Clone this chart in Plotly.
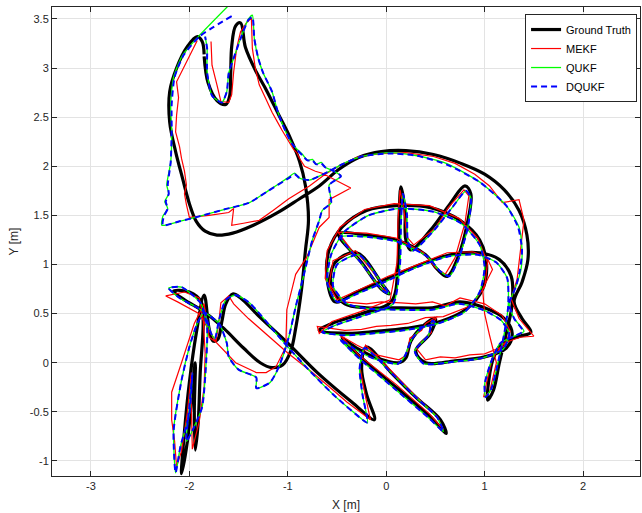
import plotly.graph_objects as go

# ---------------- data (metres) ----------------
truth_path = [
    (-1.85, 3.14), (-1.87, 3.27), (-1.92, 3.32), (-2.02, 3.22), (-2.13, 3.00), (-2.20, 2.76),
    (-2.20, 2.45), (-2.14, 2.15),
    (-2.07, 1.88), (-2.00, 1.62), (-1.93, 1.44), (-1.84, 1.34), (-1.72, 1.30), (-1.56, 1.32),
    (-1.35, 1.40), (-1.10, 1.53), (-0.88, 1.67), (-0.68, 1.80), (-0.48, 1.97), (-0.28, 2.09),
    (-0.05, 2.15), (0.20, 2.16), (0.48, 2.12), (0.76, 2.03), (1.00, 1.92), (1.20, 1.76),
    (1.35, 1.55), (1.43, 1.30), (1.44, 1.05), (1.38, 0.82), (1.30, 0.62), (1.38, 0.45),
    (1.47, 0.31), (1.36, 0.27), (1.20, 0.22), (1.09, 0.05), (1.04, -0.20), (1.03, -0.38),
    (1.09, -0.28), (1.15, 0.00), (1.22, 0.30), (1.28, 0.60), (1.27, 0.88), (1.15, 1.05),
    (0.95, 1.12), (0.65, 1.10), (0.30, 0.98), (0.00, 0.85), (-0.30, 0.72), (-0.52, 0.62),
    (-0.60, 0.85), (-0.58, 1.15), (-0.45, 1.38), (-0.20, 1.55), (0.10, 1.60), (0.45, 1.58),
    (0.75, 1.45), (0.95, 1.25), (1.02, 1.00), (0.98, 0.75), (0.82, 0.55), (0.55, 0.42),
    (0.20, 0.35), (-0.10, 0.32), (-0.40, 0.30), (-0.68, 0.33), (-0.55, 0.40), (-0.25, 0.50),
    (0.05, 0.62), (0.12, 1.00), (0.13, 1.45), (0.15, 1.79), (0.19, 1.55), (0.20, 1.25),
    (0.25, 1.15), (0.45, 1.35), (0.65, 1.62), (0.80, 1.80), (0.86, 1.72), (0.82, 1.40),
    (0.72, 1.05), (0.62, 0.88), (0.52, 0.95), (0.40, 1.10), (0.10, 1.25), (-0.20, 1.30),
    (-0.48, 1.31), (-0.25, 1.02), (-0.05, 0.75), (0.03, 0.70), (-0.04, 0.80), (-0.30, 1.12),
    (-0.52, 1.02), (-0.56, 0.78), (-0.42, 0.60), (-0.20, 0.56), (0.15, 0.56), (0.47, 0.56),
    (0.75, 0.62), (1.00, 0.56), (1.20, 0.45), (1.28, 0.30), (1.22, 0.15), (1.00, 0.06),
    (0.70, 0.02), (0.40, 0.00), (0.30, 0.12), (0.45, 0.30), (0.50, 0.45), (0.38, 0.38),
    (0.25, 0.22), (0.20, 0.05),
    (0.13, 0.00), (-0.10, 0.05), (-0.30, 0.15), (-0.45, 0.25),
    (-0.25, 0.05), (0.10, -0.25), (0.45, -0.55), (0.61, -0.72), (0.55, -0.58), (0.30, -0.35),
    (0.05, -0.10), (-0.20, 0.16), (-0.25, -0.05), (-0.20, -0.32), (-0.12, -0.58), (-0.35, -0.40),
    (-0.70, -0.10), (-1.00, 0.20), (-1.30, 0.48), (-1.48, 0.66), (-1.56, 0.70), (-1.63, 0.60),
    (-1.67, 0.42), (-1.71, 0.24), (-1.76, 0.22), (-1.80, 0.35), (-1.85, 0.69), (-1.93, 0.30),
    (-2.00, -0.20), (-2.05, -0.70), (-2.08, -1.13), (-2.02, -0.80), (-1.98, -0.40), (-1.94, 0.00),
    (-1.95, -0.50), (-1.94, -0.89), (-1.91, -0.60), (-1.89, -0.10), (-1.86, 0.40), (-1.88, 0.62),
    (-2.00, 0.72), (-2.16, 0.73), (-2.05, 0.64), (-1.85, 0.52), (-1.65, 0.35), (-1.45, 0.15),
    (-1.28, 0.00), (-1.16, -0.05), (-1.05, -0.02), (-0.97, 0.12), (-0.92, 0.35), (-0.86, 0.75),
    (-0.82, 1.15), (-0.79, 1.45), (-0.82, 1.80), (-0.88, 2.05), (-0.98, 2.30), (-1.09, 2.52),
    (-1.22, 2.78), (-1.32, 2.96), (-1.43, 3.21), (-1.48, 3.46), (-1.53, 3.43), (-1.57, 3.22),
    (-1.58, 2.95), (-1.59, 2.72), (-1.63, 2.63), (-1.72, 2.67), (-1.81, 2.85), (-1.85, 3.12),
]

mekf_path = [
    (-1.92, 3.28), (-2.03, 3.06), (-2.13, 2.86), (-2.11, 2.70), (-2.13, 2.52), (-2.14, 2.35),
    (-2.10, 2.20), (-2.08, 2.08), (-2.05, 1.95), (-2.03, 1.81), (-2.05, 1.72), (-2.03, 1.61),
    (-2.00, 1.48), (-1.80, 1.50), (-1.60, 1.53), (-1.55, 1.57), (-1.57, 1.40), (-1.45, 1.42),
    (-1.29, 1.45), (-1.15, 1.55), (-0.99, 1.67), (-0.78, 1.80), (-0.62, 1.92), (-0.45, 2.02),
    (-0.28, 2.10), (-0.05, 2.13), (0.20, 2.14), (0.48, 2.10), (0.70, 2.03), (0.90, 1.92),
    (1.05, 1.80), (1.18, 1.63), (1.35, 1.66), (1.40, 1.45), (1.38, 1.28), (1.36, 1.05),
    (1.33, 0.85), (1.27, 0.65), (1.35, 0.45), (1.50, 0.27), (1.36, 0.26), (1.20, 0.20),
    (1.08, 0.05), (1.02, -0.20), (0.99, -0.35), (1.05, -0.30), (1.12, 0.00), (1.05, 0.28),
    (1.00, 0.50), (0.98, 0.75), (1.08, 0.95), (1.02, 1.08), (0.88, 1.13), (0.62, 1.12),
    (0.32, 1.00), (0.02, 0.88), (-0.28, 0.74), (-0.50, 0.64), (-0.62, 0.86), (-0.60, 1.14),
    (-0.47, 1.38), (-0.22, 1.56), (0.08, 1.62), (0.44, 1.60), (0.74, 1.47), (0.93, 1.27),
    (1.03, 1.02), (1.00, 0.77), (0.86, 0.58), (0.58, 0.47), (0.40, 0.46), (0.22, 0.40),
    (0.05, 0.38), (-0.10, 0.37), (-0.25, 0.34), (-0.42, 0.33), (-0.70, 0.37), (-0.68, 0.30),
    (-0.55, 0.42), (-0.26, 0.52), (0.04, 0.64), (0.11, 1.02), (0.12, 1.45), (0.14, 1.76),
    (0.18, 1.56), (0.21, 1.28), (0.28, 1.20), (0.50, 1.37), (0.63, 1.58), (0.79, 1.76),
    (0.84, 1.70), (0.80, 1.42), (0.70, 1.07), (0.60, 0.90), (0.50, 0.97), (0.38, 1.12),
    (0.10, 1.27), (-0.20, 1.32), (-0.49, 1.33), (-0.27, 1.04), (-0.07, 0.77), (0.02, 0.72),
    (-0.05, 0.82), (-0.31, 1.14), (-0.54, 1.04), (-0.58, 0.80), (-0.44, 0.62), (-0.20, 0.60),
    (-0.05, 0.62), (0.15, 0.61), (0.30, 0.60), (0.47, 0.62), (0.60, 0.58), (0.75, 0.66),
    (1.00, 0.60), (1.18, 0.48), (1.26, 0.32), (1.20, 0.17), (1.00, 0.09), (0.85, 0.08),
    (0.70, 0.05), (0.55, 0.06), (0.40, 0.03), (0.31, 0.14), (0.35, 0.20), (0.46, 0.31),
    (0.44, 0.36), (0.52, 0.47), (0.40, 0.40), (0.36, 0.33), (0.24, 0.25), (0.22, 0.12),
    (0.18, 0.06), (0.13, 0.03), (-0.10, 0.08), (-0.30, 0.18),
    (-0.47, 0.28), (-0.27, 0.07), (0.10, -0.22), (0.44, -0.52), (0.58, -0.68), (0.52, -0.55),
    (0.28, -0.32), (0.04, -0.07), (-0.21, 0.18), (-0.27, -0.03), (-0.22, -0.30), (-0.16, -0.58),
    (-0.40, -0.40), (-0.55, -0.27), (-0.75, -0.10), (-1.00, 0.10), (-1.20, 0.28), (-1.40, 0.45),
    (-1.55, 0.60), (-1.60, 0.68), (-1.68, 0.61), (-1.70, 0.42), (-1.73, 0.21), (-1.80, 0.26),
    (-1.85, 0.60), (-1.95, 0.40), (-2.08, 0.00), (-2.18, -0.30), (-2.18, -0.58), (-2.15, -0.80),
    (-2.13, -1.06), (-2.08, -0.90), (-2.02, -0.50), (-1.98, -0.10), (-1.98, -0.45), (-1.97, -0.88),
    (-1.90, -0.60), (-1.85, -0.25), (-1.84, 0.10), (-1.86, 0.45), (-1.90, 0.66), (-2.05, 0.72),
    (-2.24, 0.68), (-2.12, 0.62), (-1.90, 0.50), (-1.73, 0.21), (-1.53, 0.00), (-1.32, -0.10),
    (-1.22, -0.10), (-1.12, -0.04), (-1.02, 0.16), (-1.01, 0.54), (-0.96, 0.74), (-0.92, 0.90),
    (-0.81, 1.07), (-0.68, 1.38), (-0.58, 1.48), (-0.58, 1.66), (-0.36, 1.78), (-0.50, 1.85),
    (-0.65, 1.93), (-0.72, 1.95), (-0.78, 1.98), (-0.83, 2.00), (-0.88, 2.08), (-0.91, 2.14),
    (-0.94, 2.17), (-0.97, 2.22), (-1.00, 2.27), (-1.03, 2.31), (-1.06, 2.37), (-1.11, 2.46),
    (-1.16, 2.55), (-1.22, 2.68), (-1.29, 2.83), (-1.33, 3.00), (-1.36, 3.20), (-1.37, 3.51),
    (-1.42, 3.46), (-1.48, 3.37), (-1.52, 3.20), (-1.55, 2.96), (-1.57, 2.73), (-1.60, 2.65),
    (-1.68, 2.66), (-1.72, 2.83), (-1.77, 3.03), (-1.78, 3.27),
]

qukf_path = [
    (-1.52, 3.72), (-1.90, 3.33), (-2.07, 3.13), (-2.16, 2.91), (-2.19, 2.63), (-2.18, 2.35),
    (-2.19, 2.04), (-2.23, 1.81), (-2.21, 1.72), (-2.25, 1.64), (-2.22, 1.57), (-2.27, 1.49),
    (-2.28, 1.40), (-2.10, 1.44), (-1.90, 1.49), (-1.65, 1.56), (-1.39, 1.63), (-1.20, 1.75),
    (-0.99, 1.89), (-0.93, 1.93), (-0.88, 1.88), (-0.78, 1.86), (-0.58, 1.95), (-0.45, 2.02),
    (-0.25, 2.10), (0.03, 2.14), (0.30, 2.11), (0.61, 2.03), (0.95, 1.84), (1.22, 1.60),
    (1.35, 1.38), (1.38, 1.15), (1.37, 0.95), (1.32, 0.78), (1.25, 0.60), (1.30, 0.45),
    (1.40, 0.32), (1.30, 0.27), (1.16, 0.20), (1.07, 0.02), (1.00, -0.22), (1.01, -0.35),
    (1.07, -0.26), (1.14, 0.02), (1.20, 0.30), (1.24, 0.58), (1.23, 0.86), (1.12, 1.02),
    (0.93, 1.10), (0.62, 1.08), (0.28, 0.96), (-0.02, 0.82), (-0.30, 0.70), (-0.50, 0.62),
    (-0.60, 0.82), (-0.56, 1.10), (-0.43, 1.33), (-0.18, 1.50), (0.12, 1.57), (0.47, 1.54),
    (0.76, 1.42), (0.95, 1.20), (1.00, 0.97), (0.95, 0.72), (0.80, 0.52), (0.53, 0.40),
    (0.18, 0.33), (-0.12, 0.30), (-0.42, 0.28), (-0.65, 0.31), (-0.52, 0.38), (-0.23, 0.48),
    (0.07, 0.60), (0.14, 1.00), (0.15, 1.42), (0.17, 1.72), (0.21, 1.52), (0.22, 1.24),
    (0.27, 1.14), (0.47, 1.33), (0.67, 1.58), (0.81, 1.75), (0.86, 1.68), (0.83, 1.38),
    (0.73, 1.04), (0.64, 0.88), (0.54, 0.94), (0.42, 1.08), (0.12, 1.23), (-0.18, 1.28),
    (-0.46, 1.28), (-0.24, 1.00), (-0.04, 0.74), (0.03, 0.70), (-0.03, 0.79), (-0.28, 1.10),
    (-0.50, 1.00), (-0.54, 0.78), (-0.40, 0.60), (-0.18, 0.55), (0.15, 0.54), (0.47, 0.54),
    (0.74, 0.60), (0.98, 0.54), (1.17, 0.43), (1.25, 0.29), (1.19, 0.14), (0.98, 0.05),
    (0.68, 0.01), (0.38, -0.01), (0.29, 0.12), (0.43, 0.28), (0.47, 0.43), (0.50, 0.40),
    (0.37, 0.36), (0.26, 0.24), (0.19, 0.07),
    (0.12, -0.01), (-0.12, 0.04), (-0.32, 0.14), (-0.47, 0.24),
    (-0.27, 0.04), (0.08, -0.26), (0.43, -0.56), (0.58, -0.70), (0.52, -0.56), (0.28, -0.33),
    (0.03, -0.08), (-0.22, 0.15), (-0.27, -0.06), (-0.24, -0.33), (-0.19, -0.61), (-0.24, -0.58),
    (-0.51, -0.35), (-0.78, -0.08), (-1.06, 0.23), (-1.39, 0.61), (-1.53, 0.69), (-1.63, 0.64),
    (-1.70, 0.43), (-1.74, 0.25), (-1.78, 0.30), (-1.85, 0.51), (-1.92, 0.40), (-2.00, 0.16),
    (-2.08, -0.18), (-2.16, -0.69), (-2.14, -1.12), (-2.09, -0.85), (-2.00, -0.52), (-1.97, -0.11),
    (-2.00, -0.45), (-2.03, -0.80), (-1.95, -0.65), (-1.87, -0.45), (-1.83, 0.00), (-1.82, 0.36),
    (-1.88, 0.60), (-2.08, 0.77), (-2.21, 0.76), (-2.10, 0.66), (-1.90, 0.55), (-1.70, 0.40),
    (-1.62, 0.20), (-1.60, 0.06), (-1.50, -0.07), (-1.32, -0.15), (-1.32, -0.26), (-1.18, -0.20),
    (-1.09, -0.04), (-0.99, 0.26), (-0.92, 0.57), (-0.85, 0.84), (-0.75, 1.25), (-0.68, 1.45),
    (-0.65, 1.55), (-0.56, 1.63), (-0.58, 1.81), (-0.46, 1.90), (-0.55, 1.96), (-0.62, 1.99),
    (-0.66, 2.04), (-0.71, 2.02), (-0.75, 2.07), (-0.80, 2.06), (-0.85, 2.12), (-0.95, 2.22),
    (-1.02, 2.35), (-1.10, 2.55), (-1.16, 2.76), (-1.25, 2.95), (-1.30, 3.10), (-1.34, 3.30),
    (-1.36, 3.54), (-1.40, 3.50), (-1.48, 3.30), (-1.55, 3.10), (-1.60, 2.95), (-1.62, 2.76),
    (-1.67, 2.65), (-1.77, 2.72), (-1.82, 2.96), (-1.82, 3.20), (-1.84, 3.32),
]

dqukf_path = [
    (-1.57, 3.53), (-1.90, 3.32), (-2.06, 3.13), (-2.15, 2.91), (-2.18, 2.63), (-2.18, 2.35),
    (-2.19, 2.04), (-2.22, 1.81), (-2.21, 1.72), (-2.24, 1.64), (-2.22, 1.57), (-2.26, 1.49),
    (-2.27, 1.40), (-2.10, 1.44), (-1.90, 1.49), (-1.65, 1.56), (-1.39, 1.63), (-1.20, 1.75),
    (-0.99, 1.88), (-0.93, 1.92), (-0.88, 1.88), (-0.78, 1.86), (-0.58, 1.95), (-0.45, 2.02),
    (-0.25, 2.10), (0.03, 2.13), (0.30, 2.11), (0.61, 2.02), (0.95, 1.84), (1.22, 1.60),
    (1.34, 1.38), (1.38, 1.15), (1.36, 0.95), (1.32, 0.78), (1.25, 0.60), (1.30, 0.45),
    (1.39, 0.32), (1.30, 0.27), (1.16, 0.20), (1.07, 0.02), (1.00, -0.22), (1.01, -0.35),
    (1.07, -0.26), (1.14, 0.02), (1.20, 0.30), (1.24, 0.58), (1.23, 0.86), (1.12, 1.02),
    (0.93, 1.10), (0.62, 1.08), (0.28, 0.96), (-0.02, 0.82), (-0.30, 0.70), (-0.50, 0.62),
    (-0.60, 0.82), (-0.56, 1.10), (-0.43, 1.33), (-0.18, 1.50), (0.12, 1.57), (0.47, 1.54),
    (0.76, 1.42), (0.95, 1.20), (1.00, 0.97), (0.95, 0.72), (0.80, 0.52), (0.53, 0.40),
    (0.18, 0.33), (-0.12, 0.30), (-0.42, 0.28), (-0.65, 0.31), (-0.52, 0.38), (-0.23, 0.48),
    (0.07, 0.60), (0.14, 1.00), (0.15, 1.42), (0.17, 1.72), (0.21, 1.52), (0.22, 1.24),
    (0.27, 1.14), (0.47, 1.33), (0.67, 1.58), (0.81, 1.75), (0.86, 1.68), (0.83, 1.38),
    (0.73, 1.04), (0.64, 0.88), (0.54, 0.94), (0.42, 1.08), (0.12, 1.23), (-0.18, 1.28),
    (-0.46, 1.28), (-0.24, 1.00), (-0.04, 0.74), (0.03, 0.70), (-0.03, 0.79), (-0.28, 1.10),
    (-0.50, 1.00), (-0.54, 0.78), (-0.40, 0.60), (-0.18, 0.55), (0.15, 0.54), (0.47, 0.54),
    (0.74, 0.60), (0.98, 0.54), (1.17, 0.43), (1.25, 0.29), (1.19, 0.14), (0.98, 0.05),
    (0.68, 0.01), (0.38, -0.01), (0.29, 0.12), (0.43, 0.28), (0.47, 0.43), (0.50, 0.40),
    (0.37, 0.36), (0.26, 0.24), (0.19, 0.07),
    (0.12, -0.01), (-0.12, 0.04), (-0.32, 0.14), (-0.47, 0.24),
    (-0.27, 0.04), (0.08, -0.26), (0.43, -0.56), (0.58, -0.70), (0.52, -0.56), (0.28, -0.33),
    (0.03, -0.08), (-0.22, 0.15), (-0.27, -0.06), (-0.24, -0.33), (-0.19, -0.61), (-0.24, -0.58),
    (-0.51, -0.35), (-0.78, -0.08), (-1.06, 0.23), (-1.39, 0.61), (-1.53, 0.69), (-1.63, 0.64),
    (-1.70, 0.43), (-1.74, 0.25), (-1.78, 0.30), (-1.85, 0.51), (-1.92, 0.40), (-2.00, 0.16),
    (-2.08, -0.18), (-2.16, -0.69), (-2.14, -1.12), (-2.09, -0.85), (-2.00, -0.52), (-1.97, -0.11),
    (-2.00, -0.45), (-2.03, -0.80), (-1.95, -0.65), (-1.87, -0.45), (-1.83, 0.00), (-1.82, 0.36),
    (-1.88, 0.60), (-2.08, 0.77), (-2.21, 0.76), (-2.10, 0.66), (-1.90, 0.55), (-1.70, 0.40),
    (-1.62, 0.20), (-1.60, 0.06), (-1.50, -0.07), (-1.32, -0.15), (-1.32, -0.26), (-1.18, -0.20),
    (-1.09, -0.04), (-0.99, 0.26), (-0.92, 0.57), (-0.85, 0.84), (-0.75, 1.25), (-0.68, 1.45),
    (-0.65, 1.55), (-0.56, 1.63), (-0.58, 1.81), (-0.46, 1.90), (-0.55, 1.96), (-0.62, 1.99),
    (-0.66, 2.03), (-0.71, 2.02), (-0.75, 2.06), (-0.80, 2.06), (-0.85, 2.11), (-0.95, 2.22),
    (-1.02, 2.35), (-1.10, 2.55), (-1.16, 2.76), (-1.25, 2.95), (-1.30, 3.10), (-1.34, 3.30),
    (-1.36, 3.52), (-1.40, 3.49), (-1.48, 3.30), (-1.55, 3.10), (-1.60, 2.95), (-1.62, 2.76),
    (-1.67, 2.65), (-1.77, 2.72), (-1.82, 2.96), (-1.82, 3.20), (-1.84, 3.32),
]

x_ticks = [-3, -2, -1, 0, 1, 2]
y_ticks = [-1, -0.5, 0, 0.5, 1, 1.5, 2, 2.5, 3, 3.5]
y_ticklabels = ["-1", "-0.5", "0", "0.5", "1", "1.5", "2", "2.5", "3", "3.5"]


def unzip(path):
    return [p[0] for p in path], [p[1] for p in path]


FONT = "Liberation Sans, Arial, Helvetica, sans-serif"
AX = "#262626"

fig = go.Figure()
tx, ty = unzip(truth_path)
fig.add_trace(go.Scatter(x=tx, y=ty, mode="lines", name="Ground Truth",
                         line=dict(color="black", width=3.2, shape="spline", smoothing=1.0)))
mx, my = unzip(mekf_path)
fig.add_trace(go.Scatter(x=mx, y=my, mode="lines", name="MEKF",
                         line=dict(color="#ff0000", width=1.2)))
qx, qy = unzip(qukf_path)
fig.add_trace(go.Scatter(x=qx, y=qy, mode="lines", name="QUKF",
                         line=dict(color="#00ff00", width=1.3, shape="spline", smoothing=0.6)))
dx, dy = unzip(dqukf_path)
fig.add_trace(go.Scatter(x=dx, y=dy, mode="lines", name="DQUKF",
                         line=dict(color="#0000ff", width=2.0, dash="6px,4px",
                                   shape="spline", smoothing=0.6)))

axis_common = dict(showline=True, linecolor=AX, linewidth=1, mirror="ticks",
                   ticks="inside", ticklen=5, tickcolor=AX, tickwidth=1,
                   showgrid=True, gridcolor="#e3e3e3", gridwidth=1, zeroline=False,
                   automargin=False,
                   tickfont=dict(family=FONT, size=11, color=AX))

fig.update_xaxes(range=[-3.396, 2.579], tickvals=x_ticks, ticktext=[str(v) for v in x_ticks],
                 title=dict(text="X [m]", font=dict(family=FONT, size=12, color=AX), standoff=9),
                 **axis_common)
fig.update_yaxes(range=[-1.153, 3.622], tickvals=y_ticks, ticktext=y_ticklabels,
                 title=dict(text="Y [m]", font=dict(family=FONT, size=12, color=AX), standoff=8),
                 **axis_common)

fig.update_layout(
    width=642, height=513,
    margin=dict(l=52, r=2, t=7, b=37, autoexpand=False),
    paper_bgcolor="white", plot_bgcolor="white",
    showlegend=True,
    legend=dict(x=0.995, y=0.985, xanchor="right", yanchor="top",
                bgcolor="white", bordercolor=AX, borderwidth=1,
                font=dict(family=FONT, size=11, color="black"),
                tracegroupgap=0, itemwidth=30),
)

fig.write_html(
    "out.html",
    config={"displayModeBar": False},
    post_script="document.body.style.margin='0';document.documentElement.style.overflow='hidden';"
                "document.body.style.overflow='hidden';",
)
